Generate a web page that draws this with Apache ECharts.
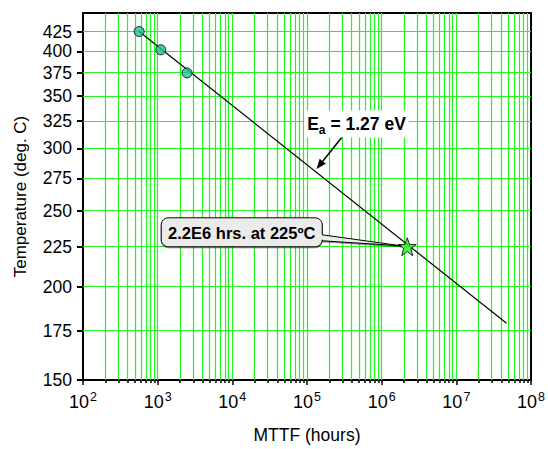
<!DOCTYPE html>
<html>
<head>
<meta charset="utf-8">
<script src="https://cdn.jsdelivr.net/npm/echarts@6/dist/echarts.min.js"></script>
<style>
  html, body { margin: 0; padding: 0; background: #fff; }
  #chart { width: 548px; height: 449px; }
</style>
</head>
<body>
<div id="chart"></div>
<script>
// temperature tick labels (deg C), y axis is 1/T
const tempTicks = [150, 175, 200, 225, 250, 275, 300, 325, 350, 375, 400, 425];
const tempMin = 150;
const tempMax = 450;
// x axis decades (hours)
const decadeExps = [2, 3, 4, 5, 6, 7, 8];
// measured points
const pointHours = [565, 1100, 2480];
const pointTemps = [425, 402, 375];
// extrapolated fit line
const fitHours = [565, 4.7e7];
const fitTemps = [425, 179];
// extrapolated use condition
const starHours = [2.2e6];
const starTemps = [225];
// annotation anchor on the fit line
const eaAnchor = [1.34e5, 282.5];

const FONT = '"Liberation Sans", Arial, Helvetica, sans-serif';
const GREEN = '#22f522';

// 1000/T(K)
const toY = (t) => 1000 / (t + 273.15);
const toT = (y) => Math.round(1000 / y - 273.15);

const majorHours = decadeExps.map((e) => Math.pow(10, e));
const minorHours = [];
decadeExps.slice(0, -1).forEach((e) => {
  for (let m = 2; m <= 9; m++) minorHours.push(m * Math.pow(10, e));
});

const chart = echarts.init(document.getElementById('chart'), null, { renderer: 'svg' });

const pair = (hs, ts) => hs.map((h, i) => [h, toY(ts[i])]);

const option = {
  animation: false,
  grid: {
    left: 83,
    right: 16,
    top: 13,
    bottom: 66,
    show: true,
    borderColor: '#000',
    borderWidth: 2,
  },
  xAxis: [
    {
      type: 'log',
      logBase: 10,
      min: 100,
      max: 1e8,
      position: 'bottom',
      name: 'MTTF (hours)',
      nameLocation: 'middle',
      nameGap: 46,
      nameTextStyle: { fontFamily: FONT, fontSize: 17.5, color: '#000' },
      axisLine: { show: true, lineStyle: { color: '#000', width: 2 } },
      axisTick: {
        show: true,
        length: 5,
        lineStyle: { color: '#000', width: 1.5 },
        customValues: majorHours,
      },
      axisLabel: {
        margin: 10,
        customValues: majorHours,
        formatter: (v) => '10{s|' + Math.round(Math.log10(v)) + '}',
        color: '#000',
        fontFamily: FONT,
        fontSize: 18,
        rich: {
          s: { fontFamily: FONT, fontSize: 12.5, color: '#000', verticalAlign: 'top', padding: [0, 0, 11, 1] },
        },
      },
      splitLine: { show: false },
    },
    {
      // minor ticks only
      type: 'log',
      logBase: 10,
      min: 100,
      max: 1e8,
      position: 'bottom',
      axisLine: { show: false },
      axisTick: {
        show: true,
        length: 3,
        lineStyle: { color: '#000', width: 1.5 },
        customValues: minorHours,
      },
      axisLabel: { show: false },
      splitLine: { show: false },
    },
  ],
  yAxis: {
    type: 'value',
    inverse: true,
    min: toY(tempMax),
    max: toY(tempMin),
    name: 'Temperature (deg. C)',
    nameLocation: 'middle',
    nameGap: 54,
    nameTextStyle: { fontFamily: FONT, fontSize: 17, color: '#000' },
    axisLine: { show: true, lineStyle: { color: '#000', width: 2 } },
    axisTick: {
      show: true,
      length: 6,
      lineStyle: { color: '#000', width: 2 },
      customValues: tempTicks.map(toY),
    },
    axisLabel: {
      margin: 11,
      customValues: tempTicks.map(toY),
      formatter: (v) => String(toT(v)),
      color: '#000',
      fontFamily: FONT,
      fontSize: 17.5,
    },
    splitLine: { show: false },
  },
  series: [
    {
      type: 'line',
      xAxisIndex: 0,
      data: pair(fitHours, fitTemps),
      symbol: 'none',
      lineStyle: { color: '#000', width: 1.2 },
      z: 3,
    },
    {
      type: 'scatter',
      xAxisIndex: 0,
      data: pair(pointHours, pointTemps),
      symbol: 'circle',
      symbolSize: 10,
      itemStyle: { color: '#1fbf96', borderColor: '#000', borderWidth: 1 },
      z: 4,
    },
    {
      type: 'scatter',
      xAxisIndex: 0,
      data: pair(starHours, starTemps),
      symbol: 'path://M12,1 L14.8,9 L23,9 L16.4,14 L18.8,22.5 L12,17.4 L5.2,22.5 L7.6,14 L1,9 L9.2,9 Z',
      symbolSize: 18,
      itemStyle: { color: '#33ee33', borderColor: '#000', borderWidth: 1 },
      z: 5,
    },
  ],
};

chart.setOption(option);

// crisp grid lines at the tick values
const rect = chart.getModel().getComponent('grid', 0).coordinateSystem.getRect();
const crisp = (v) => Math.round(v - 0.5) + 0.5;
const gridGraphics = [];
majorHours.concat(minorHours).forEach((h) => {
  const x = crisp(chart.convertToPixel({ xAxisIndex: 0 }, h));
  if (x <= rect.x + 1 || x >= rect.x + rect.width - 1) return;
  gridGraphics.push({
    type: 'line', z: 1, silent: true,
    shape: { x1: x, y1: rect.y, x2: x, y2: rect.y + rect.height },
    style: { stroke: GREEN, lineWidth: 1.2 },
  });
});
tempTicks.forEach((t) => {
  const y = crisp(chart.convertToPixel({ yAxisIndex: 0 }, toY(t)));
  if (y <= rect.y + 1 || y >= rect.y + rect.height - 1) return;
  gridGraphics.push({
    type: 'line', z: 1, silent: true,
    shape: { x1: rect.x, y1: y, x2: rect.x + rect.width, y2: y },
    style: { stroke: GREEN, lineWidth: 1.2 },
  });
});

// annotations placed relative to data positions
const star = chart.convertToPixel({ gridIndex: 0 }, [starHours[0], toY(starTemps[0])]);
const tip = chart.convertToPixel({ gridIndex: 0 }, [eaAnchor[0], toY(eaAnchor[1])]);

const bx0 = star[0] - 246, bx1 = star[0] - 85;
const by0 = star[1] - 29, by1 = star[1];
const r = 7;
const tailTop = by0 + 17, tailBot = by0 + 23;
function corner(cx, cy, a0) {
  const pts = [];
  for (let i = 0; i <= 6; i++) {
    const a = a0 + (i / 6) * Math.PI / 2;
    pts.push([cx + r * Math.cos(a), cy + r * Math.sin(a)]);
  }
  return pts;
}
const calloutPts = []
  .concat(corner(bx1 - r, by0 + r, -Math.PI / 2))
  .concat([[bx1, tailTop], [star[0] - 6, star[1] - 1], [bx1, tailBot]])
  .concat(corner(bx1 - r, by1 - r, 0))
  .concat(corner(bx0 + r, by1 - r, Math.PI / 2))
  .concat(corner(bx0 + r, by0 + r, Math.PI));

const arrowStart = [tip[0] + 28, tip[1] - 35];
const ang = Math.atan2(tip[1] - arrowStart[1], tip[0] - arrowStart[0]);
const ah = 10, aw = 4;
const back = [tip[0] - ah * Math.cos(ang), tip[1] - ah * Math.sin(ang)];
const arrowHead = [
  tip,
  [back[0] + aw * Math.sin(ang), back[1] - aw * Math.cos(ang)],
  [back[0] - aw * Math.sin(ang), back[1] + aw * Math.cos(ang)],
];

chart.setOption({
  graphic: gridGraphics.concat([
    {
      type: 'polygon',
      shape: { points: calloutPts },
      style: {
        fill: '#ebebeb',
        stroke: '#000',
        lineWidth: 1,
        shadowBlur: 1,
        shadowOffsetY: 1,
        shadowColor: 'rgba(0,0,0,0.45)',
      },
      z: 10,
    },
    {
      type: 'text',
      x: (bx0 + bx1) / 2,
      y: (by0 + by1) / 2 + 1,
      style: {
        text: '2.2E6 hrs. at 225ºC',
        fill: '#000',
        font: 'bold 16.5px ' + FONT,
        align: 'center',
        verticalAlign: 'middle',
      },
      z: 11,
    },
    {
      type: 'line',
      shape: { x1: arrowStart[0], y1: arrowStart[1], x2: back[0], y2: back[1] },
      style: { stroke: '#000', lineWidth: 1.5 },
      z: 10,
    },
    {
      type: 'polygon',
      shape: { points: arrowHead },
      style: { fill: '#000' },
      z: 10,
    },
    {
      type: 'text',
      x: tip[0] + 40,
      y: tip[1] - 45,
      style: {
        text: 'E{sub|a} = 1.27 eV',
        fill: '#000',
        font: 'bold 17.5px ' + FONT,
        align: 'center',
        verticalAlign: 'middle',
        backgroundColor: '#fff',
        padding: [2, 3, 2, 3],
        rich: {
          sub: { font: 'bold 12px ' + FONT, fill: '#000', padding: [11, 0, 0, 0] },
        },
      },
      z: 11,
    },
  ]),
});
</script>
</body>
</html>
